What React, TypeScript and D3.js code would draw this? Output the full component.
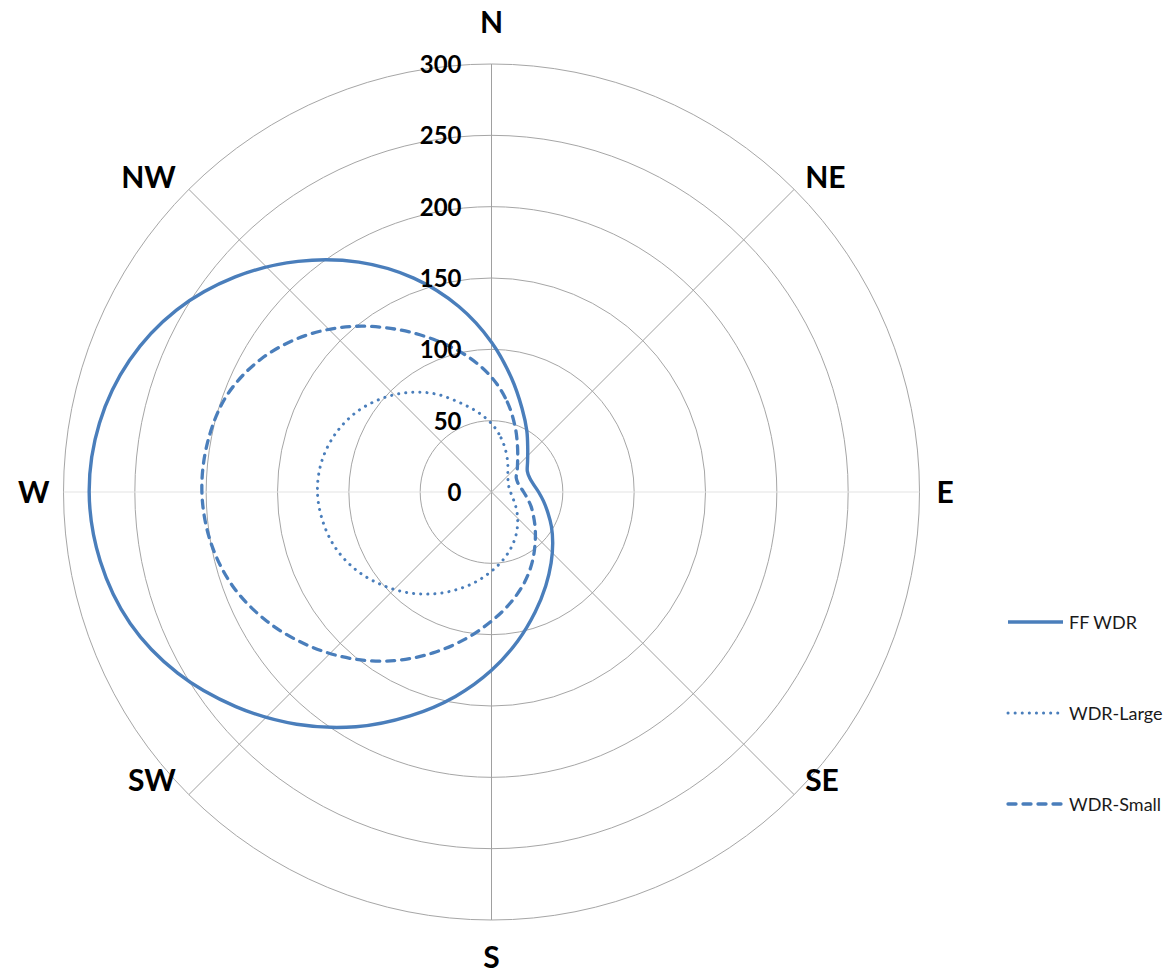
import React from "react";
import * as d3 from "d3";

// ---- data ----
const ANGLES = [0, 10, 20, 30, 40, 50, 60, 70, 80, 90, 100, 110, 120, 130, 140, 150, 160, 170,
  180, 190, 200, 210, 220, 230, 240, 250, 260, 270, 280, 290, 300, 310, 320, 330, 340, 350];

const FF_WDR = [105, 81, 62.5, 49.5, 39.5, 33, 29, 28.5, 30, 33, 37, 42, 48.5, 56, 65, 76, 89.5, 106,
  125, 145.5, 167, 190, 212.5, 234, 254, 269.5, 278.5, 282, 279, 270, 255, 234.5, 211, 186, 159.5, 132];

const WDR_LARGE = [48, 38.5, 29.8, 22.8, 17.8, 15, 13.5, 12.8, 12.7, 13.3, 14.5, 16.5, 19.5, 23.5, 28.5, 34.5, 41, 48,
  55.5, 64, 73, 82.5, 92, 101, 109.5, 116, 120, 122, 121, 117, 110.5, 101.5, 91, 79.5, 67, 57];

const WDR_SMALL = [80.5, 64, 48.5, 36.5, 28.5, 23.5, 20, 19.5, 20.5, 22.5, 25.5, 29.5, 34, 40, 47.5, 57, 67.5, 78.5,
  90.5, 104.5, 120, 136.5, 152.5, 167.5, 181.5, 193, 200, 203, 202, 197.5, 186.5, 170.5, 151.5, 131.5, 113, 96.5];

const DIRECTIONS = ["N", "NE", "E", "SE", "S", "SW", "W", "NW"];
const DIRECTION_ANGLES = [0, 45, 90, 135, 180, 225, 270, 315];
const TICKS = [0, 50, 100, 150, 200, 250, 300];

const SERIES = [
  { name: "FF WDR", values: FF_WDR, dash: "none", width: 3.4, cap: "butt" },
  { name: "WDR-Large", values: WDR_LARGE, dash: "0.1 7", width: 3, cap: "round" },
  { name: "WDR-Small", values: WDR_SMALL, dash: "8 7", width: 3.3, cap: "round" },
];

const COLOR = "#4A7EBB";

export default function App() {
  const W = 1165;
  const H = 974;
  const cx = 491.5;
  const cy = 492;
  const R = 428;

  const r = d3.scaleLinear().domain([0, 300]).range([0, R]);
  const toRad = (deg: number) => (deg * Math.PI) / 180;

  const line = d3
    .lineRadial<number>()
    .angle((_, i) => toRad(ANGLES[i]))
    .radius((d) => r(d))
    .curve(d3.curveCatmullRomClosed.alpha(0.5));

  const labelFont = "Lato, 'Open Sans', sans-serif";

  const dirLabel = (name: string, deg: number) => {
    const a = toRad(deg);
    const sx = Math.sin(a);
    const sy = -Math.cos(a);
    const px = cx + R * sx;
    const py = cy + R * sy;
    let x = px;
    let y = py;
    let anchor: "start" | "middle" | "end" = "middle";
    if (deg === 0) {
      y = py - 31;
    } else if (deg === 180) {
      y = py + 48;
    } else if (deg === 90) {
      x = px + 17;
      y = py + 11;
      anchor = "start";
    } else if (deg === 270) {
      x = px - 14;
      y = py + 11;
      anchor = "end";
    } else {
      anchor = sx > 0 ? "start" : "end";
      x = px + (sx > 0 ? 11 : -13);
      y = py + (sy < 0 ? -1 : -4);
    }
    return (
      <text
        key={name}
        x={x}
        y={y}
        textAnchor={anchor}
        fontFamily={labelFont}
        fontWeight={700}
        fontSize={30}
        fill="#000"
      >
        {name}
      </text>
    );
  };

  const legendX1 = 1008;
  const legendX2 = 1063;
  const legendY = [622, 713, 804];

  return (
    <svg
      width={W}
      height={H}
      style={{ position: "absolute", left: 0, top: 0, background: "#fff" }}
    >
      <rect x={0} y={0} width={W} height={H} fill="#fff" />
      {/* rings */}
      {TICKS.filter((t) => t > 0).map((t) => (
        <circle key={t} cx={cx} cy={cy} r={r(t)} fill="none" stroke="#a6a6a6" strokeWidth={1} />
      ))}
      {/* spokes */}
      {DIRECTION_ANGLES.map((deg) => {
        const a = toRad(deg);
        const horizontal = deg === 90 || deg === 270;
        return (
          <line
            key={deg}
            x1={cx}
            y1={cy}
            x2={cx + R * Math.sin(a)}
            y2={cy - R * Math.cos(a)}
            stroke={horizontal ? "#e3e3e3" : "#a0a0a0"}
            strokeWidth={1}
          />
        );
      })}
      {/* series */}
      <g transform={`translate(${cx},${cy})`}>
        {SERIES.map((s) => (
          <path
            key={s.name}
            d={line(s.values) || ""}
            fill="none"
            stroke={COLOR}
            strokeWidth={s.width}
            strokeDasharray={s.dash}
            strokeLinecap={s.cap as any}
            strokeLinejoin="round"
          />
        ))}
      </g>
      {/* tick labels */}
      {TICKS.map((t) => (
        <text
          key={t}
          x={cx - 30}
          y={cy - r(t) + 9}
          textAnchor="end"
          fontFamily={labelFont}
          fontWeight={700}
          fontSize={24}
          fill="#000"
        >
          {t}
        </text>
      ))}
      {/* direction labels */}
      {DIRECTIONS.map((d, i) => dirLabel(d, DIRECTION_ANGLES[i]))}
      {/* legend */}
      {SERIES.map((s, i) => (
        <g key={s.name}>
          <line
            x1={legendX1}
            x2={legendX2}
            y1={legendY[i]}
            y2={legendY[i]}
            stroke={COLOR}
            strokeWidth={s.width}
            strokeDasharray={s.dash}
            strokeLinecap={s.cap as any}
          />
          <text
            x={legendX2 + 6}
            y={legendY[i] + 6.5}
            fontFamily={labelFont}
            fontSize={18}
            fill="#1a1a1a"
          >
            {s.name}
          </text>
        </g>
      ))}
    </svg>
  );
}
